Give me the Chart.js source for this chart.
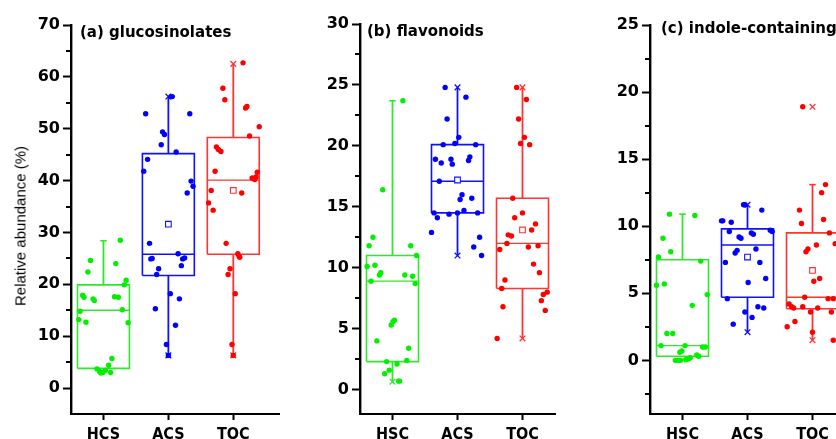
<!DOCTYPE html>
<html>
<head>
<meta charset="utf-8">
<script src="https://cdn.jsdelivr.net/npm/chart.js@4.4.1/dist/chart.umd.min.js"></script>
<style>
  html, body { margin: 0; padding: 0; background: #fff; overflow: hidden; }
  body { width: 836px; height: 439px; position: relative; }
  canvas { position: absolute; top: 0; }
  .ptitle { position: absolute; font: bold 15px "DejaVu Sans", sans-serif; line-height: 15px; color: #000; white-space: nowrap; }
  #ytitle { position: absolute; left: 20px; top: 226px; transform: translate(-50%, -50%) rotate(-90deg);
    font: 15px "Liberation Sans", Arial, sans-serif; white-space: nowrap; color: #000; }
</style>
</head>
<body>
<canvas id="cA" width="285" height="439" style="left:0px"></canvas>
<canvas id="cB" width="290" height="439" style="left:275px"></canvas>
<canvas id="cC" width="290" height="439" style="left:565px"></canvas>
<div class="ptitle" style="left:80px;top:25px">(a) glucosinolates</div>
<div class="ptitle" style="left:367px;top:24px">(b) flavonoids</div>
<div class="ptitle" style="left:661px;top:21px">(c) indole-containing</div>
<div id="ytitle">Relative abundance (%)</div>
<script>
// ---- data ----
const labelsA = ["HCS", "ACS", "TOC"];
const labelsBC = ["HSC", "ACS", "TOC"];

// (a) glucosinolates
const glucoHCS = [28.5,24.6,24.0,22.4,20.8,19.9,17.9,17.5,17.2,16.9,17.6,17.5,14.8,15.1,13.2,12.7,12.6,5.7,4.4,3.7,3.2,3.0,3.4,3.0,2.9];
const glucoHCSJit = [0.26,-0.20,0.19,-0.24,0.35,0.32,-0.32,-0.30,-0.16,-0.14,0.17,0.23,-0.36,0.29,-0.38,-0.27,0.38,0.13,0.08,-0.10,-0.06,-0.01,0.03,0.11,-0.04];
const glucoACS = [56.2,56.2,52.9,52.9,49.4,48.9,46.9,45.5,44.1,41.8,39.9,38.9,37.6,27.9,25.0,24.9,25.9,25.1,24.9,23.0,23.6,21.9,18.2,17.2,15.3,12.1,8.4,6.3];
const glucoACSJit = [0.04,0.06,-0.35,0.33,-0.09,-0.06,-0.11,0.12,-0.32,-0.38,0.35,0.38,0.29,-0.29,-0.25,-0.27,0.15,0.25,0.22,-0.15,0.20,-0.18,0.03,0.17,-0.20,0.11,-0.03,0];
const glucoTOC = [62.7,57.8,55.6,54.3,54.0,50.4,48.6,46.5,46.0,45.6,41.8,41.6,40.5,40.2,40.7,38.1,37.6,35.7,34.3,27.9,25.9,25.4,25.2,23.0,21.9,18.2,8.4,6.3];
const glucoTOCJit = [0.15,-0.16,-0.13,0.21,0.19,0.40,0.25,-0.26,-0.23,-0.19,-0.28,0.37,0.29,0.33,0.35,-0.34,0.13,-0.38,-0.31,-0.11,0.07,0.09,0.10,-0.05,-0.08,0.03,-0.02,0];
const glucoQ1 = [3.8, 21.7, 25.8];
const glucoMed = [15.0, 25.8, 40.1];
const glucoQ3 = [19.9, 45.2, 48.3];
const glucoLo = [3.8, 6.3, 6.3];
const glucoHi = [28.4, 56.2, 62.5];
const glucoMean = [null, 31.6, 38.1];
const glucoCaps = [[28.4], [], []];
const glucoCross = [[], [6.3, 56.2], [6.3, 62.5]];

// (b) flavonoids
const flavHSC = [23.7,16.4,12.5,11.8,11.8,11.0,10.1,10.2,9.6,9.4,9.4,9.3,8.7,8.9,5.7,5.6,5.3,4.0,3.4,2.3,2.1,2.4,1.6,1.3,0.7,0.7];
const flavHSCJit = [0.16,-0.15,-0.30,-0.36,0.28,0.37,-0.39,-0.27,-0.18,-0.20,0.19,0.31,0.35,-0.33,0.03,0.01,-0.02,-0.24,0.25,-0.09,0.07,0.22,-0.05,-0.12,0.09,0.11];
const flavACS = [24.8,24.0,22.2,20.7,20.1,20.2,20.1,18.9,18.6,18.9,18.5,19.1,18.8,17.1,16.0,15.7,15.6,14.7,14.5,14.5,14.4,14.5,14.1,12.9,12.5,11.7,11.0];
const flavACSJit = [-0.19,0.13,-0.16,0.02,-0.22,-0.04,0.28,-0.34,-0.25,-0.10,-0.08,0.19,0.17,-0.28,0.07,0.22,0.04,0.10,-0.36,0.31,-0.13,0,-0.31,-0.40,0.34,0.25,0.37];
const flavTOC = [24.8,23.8,22.2,20.7,20.2,20.1,15.7,14.5,14.1,13.6,13.1,12.7,12.6,12.0,11.5,11.7,11.8,10.3,9.6,9.0,8.3,8.0,7.8,7.3,6.8,6.5,4.2];
const flavTOCJit = [-0.09,0.06,-0.06,0.03,-0.03,0.11,-0.15,0,-0.12,0.20,0.14,-0.22,-0.17,-0.24,-0.35,0.09,0.24,0.17,0.26,-0.27,-0.32,0.38,0.32,0.29,-0.30,0.35,-0.39];
const flavQ1 = [2.3, 14.5, 8.3];
const flavMed = [8.9, 17.1, 12.0];
const flavQ3 = [11.0, 20.1, 15.7];
const flavLo = [0.65, 11.0, 4.2];
const flavHi = [23.7, 24.8, 24.8];
const flavMean = [null, 17.2, 13.1];
const flavCaps = [[23.7], [], []];
const flavCross = [[0.65], [11.0, 24.8], [4.2, 24.8]];

// (c) indole-containing
const indHSC = [10.9,10.8,9.1,8.1,7.7,7.4,5.6,5.7,4.9,4.1,2.0,2.0,1.1,1.1,1.0,1.0,0.6,0.7,0.4,0.3,0,0,0,0.05,0.1,0.2];
const indHSCJit = [-0.20,0.19,-0.30,-0.18,-0.37,0.28,-0.40,-0.28,0.38,0.15,-0.24,-0.15,-0.33,0.04,0.31,0.35,-0.04,-0.01,0.22,0.25,-0.11,-0.07,-0.03,0.05,0.09,0.12];
const indACS = [11.6,11.6,11.2,10.4,10.4,10.3,9.7,9.6,9.6,9.5,9.4,9.2,9.1,8.3,8.2,8.0,7.3,7.3,5.8,6.1,4.6,3.6,4.0,3.9,3.2,2.7];
const indACSJit = [-0.06,-0.04,0.22,-0.40,-0.38,-0.25,0.35,0.38,-0.28,0.06,0.09,-0.13,-0.10,0.13,-0.16,-0.19,-0.34,0.19,0.01,0.28,-0.31,-0.04,0.16,0.25,0.07,-0.22];
const indTOC = [18.9,13.1,12.5,11.2,10.5,10.2,9.5,8.7,8.1,8.3,8.6,6.1,5.9,4.7,4.6,4.6,4.2,4.0,3.9,4.0,3.9,3.6,3.6,2.9,2.5,2.1,1.5];
const indTOCJit = [-0.15,0.20,0.14,-0.20,0.17,-0.17,0.26,0.35,-0.10,-0.07,0.06,0.11,0.02,-0.12,0.24,0.32,-0.36,-0.32,-0.29,-0.15,0.08,0.29,-0.03,-0.27,-0.39,0,0.32];
const indQ1 = [0.3, 4.7, 3.85];
const indMed = [1.1, 8.6, 4.7];
const indQ3 = [7.5, 9.8, 9.5];
const indLo = [0.3, 2.1, 1.5];
const indHi = [10.9, 11.6, 13.1];
const indMean = [null, 7.7, 6.7];
const indCaps = [[10.9], [], [13.1]];
const indCross = [[], [2.1, 11.6], [1.5, 18.9]];

// ---- drawing ----
const pointColors = ["#00f000", "#0000ff", "#ff0000"];
const lineColors = ["#2ee82e", "#1010ff", "#ff3333"];
const HW = 0.4;   // box half width (x units)
const CAP = 0.05;

const minorTicks = {
  id: "minorTicks",
  afterDraw(chart, args, opts) {
    const y = chart.scales.y, ctx = chart.ctx;
    ctx.save();
    ctx.strokeStyle = "#000";
    ctx.lineWidth = 2;
    opts.values.forEach(v => {
      const py = Math.round(y.getPixelForValue(v));
      ctx.beginPath();
      ctx.moveTo(chart.chartArea.left - 5, py);
      ctx.lineTo(chart.chartArea.left, py);
      ctx.stroke();
    });
    ctx.restore();
  }
};

function seg(pts, color, w) {
  return { type: "scatter", data: pts, showLine: true, pointRadius: 0, borderColor: color,
    borderWidth: w, fill: false, order: 3 };
}

function makePanel(id, p) {
  const ds = [];
  p.vals.forEach((vals, i) => {
    const c = i + 1;
    ds.push({ type: "scatter", order: 0, pointRadius: 2.7, borderWidth: 0,
      pointBackgroundColor: pointColors[i],
      data: vals.map((v, k) => ({ x: c + p.jit[i][k], y: v })) });
    const lc = lineColors[i];
    ds.push(seg([{x:c-HW,y:p.q1[i]},{x:c+HW,y:p.q1[i]},{x:c+HW,y:p.q3[i]},{x:c-HW,y:p.q3[i]},{x:c-HW,y:p.q1[i]}], lc, 1.6));
    ds.push(seg([{x:c-HW,y:p.med[i]},{x:c+HW,y:p.med[i]}], lc, 1.4));
    ds.push(seg([{x:c,y:p.q3[i]},{x:c,y:p.hi[i]}], lc, 1.8));
    if (p.lo[i] < p.q1[i]) ds.push(seg([{x:c,y:p.lo[i]},{x:c,y:p.q1[i]}], lc, 1.8));
    p.caps[i].forEach(v => ds.push(seg([{x:c-CAP,y:v},{x:c+CAP,y:v}], lc, 1.6)));
    if (p.cross[i].length)
      ds.push({ type: "scatter", order: 1, pointStyle: "crossRot", pointRadius: 4, borderWidth: 1.3,
        borderColor: lc, data: p.cross[i].map(v => ({ x: c, y: v })) });
    if (p.mean[i] != null)
      ds.push({ type: "scatter", order: 1, pointStyle: "rect", pointRadius: 4, borderWidth: 1.1,
        borderColor: lc, backgroundColor: "#fff", data: [{ x: c, y: p.mean[i] }] });
  });

  return new Chart(document.getElementById(id), {
    type: "scatter",
    data: { datasets: ds },
    options: {
      responsive: false,
      animation: false,
      events: [],
      layout: { padding: { top: p.top, right: p.right, left: 0, bottom: 0 } },
      plugins: { legend: { display: false }, tooltip: { enabled: false },
        minorTicks: { values: p.minor } },
      scales: {
        x: {
          type: "linear", min: 0.5, max: p.xMax,
          afterBuildTicks: s => { s.ticks = [1, 2, 3].map(v => ({ value: v })); },
          afterFit: s => { s.height = 25; },
          border: { display: true, color: "#000", width: 2 },
          grid: { drawOnChartArea: false, tickLength: 6, tickWidth: 2, tickColor: "#000" },
          ticks: { padding: 5, color: "#000", maxRotation: 0,
            font: { family: "'DejaVu Sans Condensed', 'DejaVu Sans', sans-serif", size: 16, weight: "bold" },
            callback: v => p.labels[v - 1] }
        },
        y: {
          min: p.yMin, max: p.yMax,
          afterBuildTicks: s => { s.ticks = p.major.map(v => ({ value: v })); },
          afterFit: s => { s.width = p.yWidth; },
          border: { display: true, color: "#000", width: 2.4 },
          grid: { drawOnChartArea: false, tickLength: 8, tickWidth: 2, tickColor: "#000" },
          ticks: { padding: 3, color: "#000",
            font: { family: "'DejaVu Sans', sans-serif", size: 16, weight: "bold" } }
        }
      }
    },
    plugins: [minorTicks]
  });
}

makePanel("cA", {
  labels: labelsA, vals: [glucoHCS, glucoACS, glucoTOC], jit: [glucoHCSJit, glucoACSJit, glucoTOCJit],
  q1: glucoQ1, med: glucoMed, q3: glucoQ3, lo: glucoLo, hi: glucoHi, mean: glucoMean,
  caps: glucoCaps, cross: glucoCross,
  yMin: -5, yMax: 70, major: [0, 10, 20, 30, 40, 50, 60, 70], minor: [5, 15, 25, 35, 45, 55, 65],
  xMax: 3.715, yWidth: 71, top: 25, right: 5
});
makePanel("cB", {
  labels: labelsBC, vals: [flavHSC, flavACS, flavTOC], jit: [flavHSCJit, flavACSJit, flavTOCJit],
  q1: flavQ1, med: flavMed, q3: flavQ3, lo: flavLo, hi: flavHi, mean: flavMean,
  caps: flavCaps, cross: flavCross,
  yMin: -2, yMax: 30, major: [0, 5, 10, 15, 20, 25, 30], minor: [2.5, 7.5, 12.5, 17.5, 22.5, 27.5],
  xMax: 3.5, yWidth: 85, top: 24, right: 10
});
makePanel("cC", {
  labels: labelsBC, vals: [indHSC, indACS, indTOC], jit: [indHSCJit, indACSJit, indTOCJit],
  q1: indQ1, med: indMed, q3: indQ3, lo: indLo, hi: indHi, mean: indMean,
  caps: indCaps, cross: indCross,
  yMin: -4, yMax: 25, major: [0, 5, 10, 15, 20, 25], minor: [-2.5, 2.5, 7.5, 12.5, 17.5, 22.5],
  xMax: 3.5, yWidth: 85, top: 25, right: 10
});
</script>
</body>
</html>
